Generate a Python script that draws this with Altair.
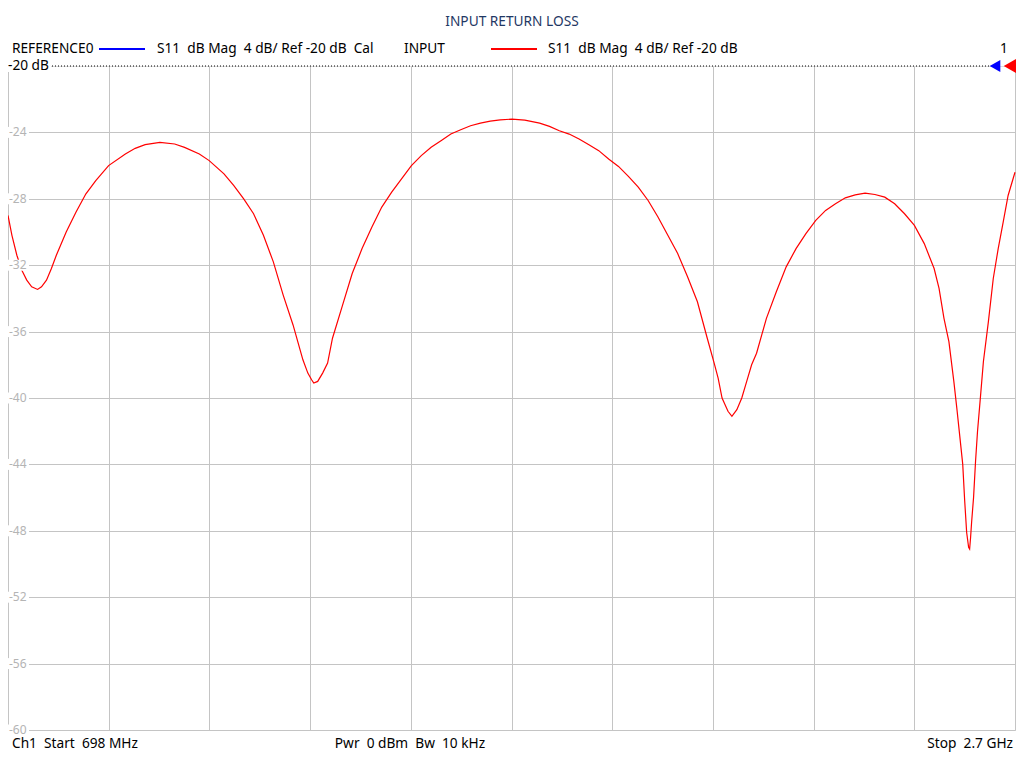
import altair as alt
import pandas as pd

# ---- data ----
freq_mhz = [698.0, 705.8, 715.6, 725.5, 735.3, 745.1, 756.8, 764.6, 774.5, 784.3, 794.1, 813.7,
            833.3, 852.9, 872.5, 898.0, 931.3, 950.9, 970.6, 1000.0, 1029.4, 1049.0,
            1078.4, 1098.0, 1127.4, 1147.0, 1166.6, 1186.2, 1205.8, 1225.5, 1245.1, 1264.7,
            1284.3, 1294.1, 1301.6, 1305.9, 1313.7, 1323.5, 1333.4, 1343.1, 1362.7, 1382.3,
            1401.9, 1421.5, 1441.1,
            1460.8, 1480.4, 1500.0, 1519.6, 1539.2, 1558.8, 1578.4, 1598.0, 1617.6, 1637.2,
            1656.8, 1676.5, 1700.0, 1725.5, 1754.9, 1774.5, 1794.1, 1813.7, 1833.3, 1852.9,
            1872.5, 1892.1, 1911.7, 1931.4, 1951.0, 1970.6, 1990.2, 2009.8, 2029.4, 2049.0,
            2068.6, 2088.2, 2101.9, 2109.8, 2117.6, 2129.4, 2137.2, 2147.0, 2156.8, 2166.6,
            2176.4, 2186.2, 2205.8,
            2225.5, 2245.1, 2264.7, 2284.3, 2303.9, 2323.5, 2343.1, 2362.7, 2382.3, 2401.9,
            2421.5, 2441.1, 2460.8, 2480.4, 2500.0, 2519.6, 2539.2, 2549.0, 2558.8, 2568.6,
            2578.4, 2584.3, 2590.2, 2596.1, 2600.0, 2603.9, 2607.8, 2609.8, 2611.7, 2613.7,
            2617.6, 2621.6, 2625.5, 2631.4, 2637.2, 2647.1,
            2656.8, 2666.6, 2676.5, 2686.3, 2700.0]
s11_db = [-29.0, -30.2, -31.4, -32.3, -32.9, -33.3, -33.46, -33.3, -32.9, -32.2, -31.4, -30.0,
          -28.8, -27.7, -26.9, -26.0, -25.3, -24.96, -24.74, -24.6, -24.7, -24.9,
          -25.3, -25.7, -26.5, -27.2, -28.0, -28.9, -30.2, -31.8, -33.8, -35.6,
          -37.7, -38.5, -38.9, -39.1, -39.0, -38.5, -37.9, -36.4, -34.45, -32.5,
          -31.0, -29.7, -28.5,
          -27.6, -26.8, -26.0, -25.4, -24.9, -24.5, -24.1, -23.84, -23.6, -23.44,
          -23.32, -23.24, -23.2, -23.26, -23.44, -23.64, -23.9, -24.1, -24.4, -24.74,
          -25.1, -25.6, -26.05, -26.65, -27.3, -28.1, -29.1, -30.2, -31.3, -32.7,
          -34.2, -36.4, -37.9, -38.8, -40.0, -40.8, -41.1, -40.7, -40.0, -39.0,
          -38.0, -37.3, -35.2,
          -33.6, -32.1, -31.0, -30.1, -29.3, -28.7, -28.3, -27.94, -27.76, -27.66,
          -27.74, -27.9, -28.3, -28.9, -29.6, -30.7, -32.2, -33.4, -35.2, -36.6,
          -39.0, -40.6, -42.3, -44.0, -46.2, -48.1, -49.0, -49.1, -48.4, -47.5,
          -46.0, -43.8, -42.0, -39.9, -37.8, -35.4,
          -32.8, -31.0, -29.4, -27.8, -26.4]

x_grid = [round(698 + 200.2 * k, 1) for k in range(11)]
y_ticks = [-20, -24, -28, -32, -36, -40, -44, -48, -52, -56, -60]
y_grid = [-24, -28, -32, -36, -40, -44, -48, -52, -56, -60]

title_text = "INPUT RETURN LOSS"
legend_ref = "REFERENCE0"
legend_ref_desc = "S11\u00a0\u00a0dB Mag\u00a0\u00a04 dB/ Ref -20 dB\u00a0\u00a0Cal"
legend_inp = "INPUT"
legend_inp_desc = "S11\u00a0\u00a0dB Mag\u00a0\u00a04 dB/ Ref -20 dB"
foot_left = "Ch1\u00a0\u00a0Start\u00a0\u00a0698 MHz"
foot_mid = "Pwr\u00a0\u00a00 dBm\u00a0\u00a0Bw\u00a0\u00a010 kHz"
foot_right = "Stop\u00a0\u00a02.7 GHz"

W, H = 1007, 664
FONT = "Noto Sans"
FS = 13.7

trace = pd.DataFrame({"f": freq_mhz, "db": s11_db})
labels = pd.DataFrame({
    "v": y_ticks,
    "lab": [str(v) for v in y_ticks],
    "off": [7 if v == -20 else (-8 if v == -60 else 0) for v in y_ticks],
})
one = pd.DataFrame({"k": [0]})

xs = alt.Scale(domain=[698, 2700], nice=False, zero=False)
ys = alt.Scale(domain=[-60, -20], nice=False, zero=False)

base = alt.Chart(trace).encode(
    x=alt.X("f:Q", scale=xs, axis=alt.Axis(values=x_grid, grid=True, labels=False, ticks=False,
                                            domain=False, title=None, gridColor="#c4c4c4",
                                            gridWidth=1)),
    y=alt.Y("db:Q", scale=ys, axis=alt.Axis(values=y_grid, grid=True, labels=False, ticks=False,
                                             domain=False, title=None, gridColor="#c4c4c4",
                                             gridWidth=1)),
)

line = base.mark_line(color="#ff0000", strokeWidth=1.2, interpolate="linear")

lab_bg = alt.Chart(labels).mark_point(
    shape="M-1,-0.5H1V0.5H-1Z", filled=True, color="white", opacity=1, size=484
).encode(x=alt.value(10), y=alt.Y("v:Q", scale=ys), yOffset=alt.YOffset("off:Q", scale=None))

lab_txt = alt.Chart(labels).mark_text(
    align="left", baseline="middle", font=FONT, fontSize=12, color="#b4b4b4"
).encode(x=alt.value(1), y=alt.Y("v:Q", scale=ys), yOffset=alt.YOffset("off:Q", scale=None),
         text="lab:N")

ref_rule = alt.Chart(one).mark_rule(color="black", strokeDash=[1, 2], strokeWidth=1).encode(
    x=alt.value(44), x2=alt.value(981), y=alt.datum(-20, scale=ys))

ref_bg = alt.Chart(one).mark_point(
    shape="M-1,-0.27H1V0.27H-1Z", filled=True, color="white", opacity=1, size=1936
).encode(x=alt.value(21), y=alt.datum(-20, scale=ys))

ref_txt = alt.Chart(one).mark_text(
    align="left", baseline="middle", font=FONT, fontSize=FS, color="black", text="-20 dB"
).encode(x=alt.value(0), y=alt.datum(-20, scale=ys))

tri_blue = alt.Chart(one).mark_point(
    shape="triangle-left", filled=True, color="#0000ff", opacity=1, size=150
).encode(x=alt.value(987), y=alt.datum(-20, scale=ys))

tri_red = alt.Chart(one).mark_point(
    shape="triangle-left", filled=True, color="#ff0000", opacity=1, size=360
).encode(x=alt.value(1004), y=alt.datum(-20, scale=ys))


def txt(s, x, y, align="left", color="black"):
    return alt.Chart(one).mark_text(
        align=align, baseline="middle", font=FONT, fontSize=FS, color=color, text=s
    ).encode(x=alt.value(x), y=alt.value(y))


def seg(x1, x2, y, color):
    return alt.Chart(one).mark_rule(color=color, strokeWidth=2).encode(
        x=alt.value(x1), x2=alt.value(x2), y=alt.value(y))


ytop = -17
annots = [
    txt(title_text, 504, -44, align="center", color="#1f3864"),
    txt(legend_ref, 4, ytop),
    seg(91, 137, ytop, "#0000ff"),
    txt(legend_ref_desc, 149, ytop),
    txt(legend_inp, 396, ytop),
    seg(483, 529, ytop, "#ff0000"),
    txt(legend_inp_desc, 540, ytop),
    txt("1", 996, ytop, align="center"),
    txt(foot_left, 4, 678),
    txt(foot_mid, 402, 678, align="center"),
    txt(foot_right, 1005, 678, align="right"),
]

chart = alt.layer(
    line, lab_bg, lab_txt, ref_rule, ref_bg, ref_txt, tri_blue, tri_red, *annots
).properties(
    width=W, height=H,
    autosize=alt.AutoSizeParams(type="none"),
    padding={"left": 0, "top": 58, "right": 1, "bottom": 23},
).configure_view(stroke=None).configure(background="white")

chart.save("out.html", embed_options={"renderer": "svg", "actions": False})
